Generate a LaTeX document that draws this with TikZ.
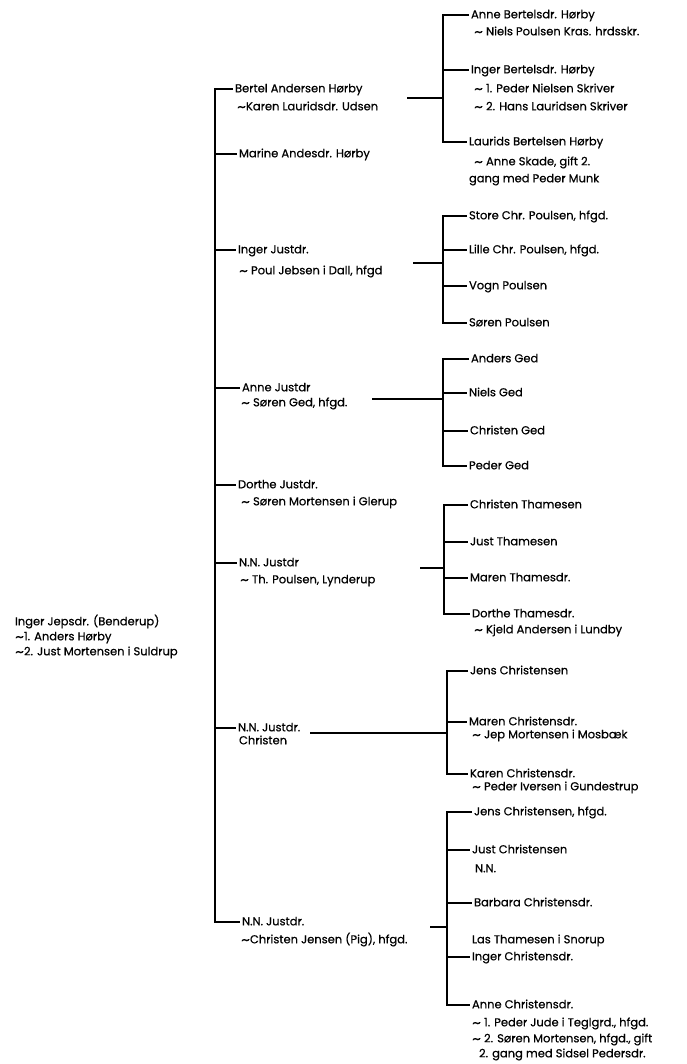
\documentclass[tikz,border=0pt]{standalone}
\usepackage{fontspec}
\setmainfont{Poppins}[FakeBold=0.5]
\usetikzlibrary{calc}

\newcommand{\tld}{\raisebox{-.2ex}{\scalebox{1.5}[1.2]{\textasciitilde}}}

\begin{document}
\begin{tikzpicture}[x=1pt, y=-1pt,
    pers/.style={anchor=west, inner xsep=1.5pt, inner ysep=0pt, text height=1.5ex, text depth=.3ex, font=\fontsize{11.5}{14}\selectfont},
    every path/.style={line width=1.1pt}]
      \useasboundingbox (0,0) rectangle (686,1064);

      \node[pers] (root) at (13,622) {Inger Jepsdr. (Benderup)};
      \node[pers] (root-s1) at (13,637) {\tld1. Anders Hørby};
      \node[pers] (root-s2) at (13,652) {\tld2. Just Mortensen i Suldrup};

      \node[pers] (bertel) at (233,89) {Bertel Andersen Hørby};
      \node[pers] (bertel-s) at (235,107) {\tld Karen Lauridsdr. Udsen};
      \node[pers] (marine) at (237,154) {Marine Andesdr. Hørby};
      \node[pers] (ingerj) at (236,250) {Inger Justdr.};
      \node[pers] (ingerj-s) at (237,271) {\tld{} Poul Jebsen i Dall, hfgd};
      \node[pers] (annej) at (240,388) {Anne Justdr};
      \node[pers] (annej-s) at (239,403) {\tld{} Søren Ged, hfgd.};
      \node[pers] (dorthej) at (236,485) {Dorthe Justdr.};
      \node[pers] (dorthej-s) at (239,502) {\tld{} Søren Mortensen i Glerup};
      \node[pers] (nnj) at (237,563) {N.N. Justdr};
      \node[pers] (nnj-s) at (238,580) {\tld{} Th. Poulsen, Lynderup};
      \node[pers] (nnjc) at (236,728) {N.N. Justdr.};
      \node[pers] (nnjc-s) at (237,741) {Christen};
      \node[pers] (nnjp) at (240,922) {N.N. Justdr.};
      \node[pers] (nnjp-s) at (239,940) {\tld Christen Jensen (Pig), hfgd.};

      \node[pers] (annebh) at (469,15) {Anne Bertelsdr. Hørby};
      \node[pers] (annebh-s) at (472,32) {\tld{} Niels Poulsen Kras. hrdsskr.};
      \node[pers] (ingerbh) at (469,70) {Inger Bertelsdr. Hørby};
      \node[pers] (ingerbh-s1) at (472,89) {\tld{} 1. Peder Nielsen Skriver};
      \node[pers] (ingerbh-s2) at (472,107) {\tld{} 2. Hans Lauridsen Skriver};
      \node[pers] (laurids) at (467,142) {Laurids Bertelsen Hørby};
      \node[pers] (laurids-s1) at (472,162) {\tld{} Anne Skade, gift 2.};
      \node[pers] (laurids-s2) at (467,179) {gang med Peder Munk};

      \node[pers] (store) at (467,216) {Store Chr. Poulsen, hfgd.};
      \node[pers] (lille) at (467,250) {Lille Chr. Poulsen, hfgd.};
      \node[pers] (vogn) at (467,286) {Vogn Poulsen};
      \node[pers] (sorenp) at (467,323) {Søren Poulsen};

      \node[pers] (anders) at (469,359) {Anders Ged};
      \node[pers] (nielsg) at (467,393) {Niels Ged};
      \node[pers] (christeng) at (468,431) {Christen Ged};
      \node[pers] (pederg) at (467,466) {Peder Ged};

      \node[pers] (christent) at (468,505) {Christen Thamesen};
      \node[pers] (justt) at (468,542) {Just Thamesen};
      \node[pers] (marent) at (468,578) {Maren Thamesdr.};
      \node[pers] (dortht) at (470,614) {Dorthe Thamesdr.};
      \node[pers] (dortht-s) at (472,630) {\tld{} Kjeld Andersen i Lundby};

      \node[pers] (jensc) at (468,671) {Jens Christensen};
      \node[pers] (marenc) at (467,722) {Maren Christensdr.};
      \node[pers] (marenc-s) at (470,735) {\tld{} Jep Mortensen i Mosbæk};
      \node[pers] (karenc) at (468,774) {Karen Christensdr.};
      \node[pers] (karenc-s) at (470,787) {\tld{} Peder Iversen i Gundestrup};

      \node[pers] (jensch) at (472,812) {Jens Christensen, hfgd.};
      \node[pers] (justc) at (470,850) {Just Christensen};
      \node[pers] (justc-s) at (473,869) {N.N.};
      \node[pers] (barbara) at (472,903) {Barbara Christensdr.};
      \node[pers] (ingerc-s) at (470,940) {Las Thamesen i Snorup};
      \node[pers] (ingerc) at (470,957) {Inger Christensdr.};
      \node[pers] (annec) at (470,1005) {Anne Christensdr.};
      \node[pers] (annec-s1) at (470,1023) {\tld{} 1. Peder Jude i Teglgrd., hfgd.};
      \node[pers] (annec-s2) at (470,1039) {\tld{} 2. Søren Mortensen, hfgd., gift};
      \node[pers] (annec-s3) at (477,1054) {2. gang med Sidsel Pedersdr.};

      % trunk of the first generation
      \coordinate (trunk) at (215,500);
      \draw (bertel.west) -| (trunk) |- (nnjp.west);
      \foreach \n in {marine, ingerj, annej, dorthej, nnj, nnjc}
        \draw (trunk |- \n.west) -- (\n.west);

      % sibling groups
      \coordinate (g1in) at (407,98);
      \coordinate (g1) at (443,98);
      \coordinate (g2in) at (413,263);
      \coordinate (g2) at (443,263);
      \coordinate (g3in) at (372,399);
      \coordinate (g3) at (443,399);
      \coordinate (g4in) at (420,568);
      \coordinate (g4) at (444,568);
      \coordinate (g5in) at (310,733);
      \coordinate (g5) at (447,733);
      \coordinate (g6in) at (430,927);
      \coordinate (g6) at (447,927);

      \draw (g1in) -- (g1);
      \draw (annebh.west) -| (g1) |- (laurids.west);
      \draw (g1 |- ingerbh.west) -- (ingerbh.west);

      \draw (g2in) -- (g2);
      \draw (store.west) -| (g2) |- (sorenp.west);
      \foreach \n in {lille, vogn}
        \draw (g2 |- \n.west) -- (\n.west);

      \draw (g3in) -- (g3);
      \draw (anders.west) -| (g3) |- (pederg.west);
      \foreach \n in {nielsg, christeng}
        \draw (g3 |- \n.west) -- (\n.west);

      \draw (g4in) -- (g4);
      \draw (christent.west) -| (g4) |- (dortht.west);
      \foreach \n in {justt, marent}
        \draw (g4 |- \n.west) -- (\n.west);

      \draw (g5in) -- (g5);
      \draw (jensc.west) -| (g5) |- (karenc.west);
      \draw (g5 |- marenc.west) -- (marenc.west);

      \draw (g6in) -- (g6);
      \draw (jensch.west) -| (g6) |- (annec.west);
      \foreach \n in {justc, barbara, ingerc}
        \draw (g6 |- \n.west) -- (\n.west);
\end{tikzpicture}
\end{document}
